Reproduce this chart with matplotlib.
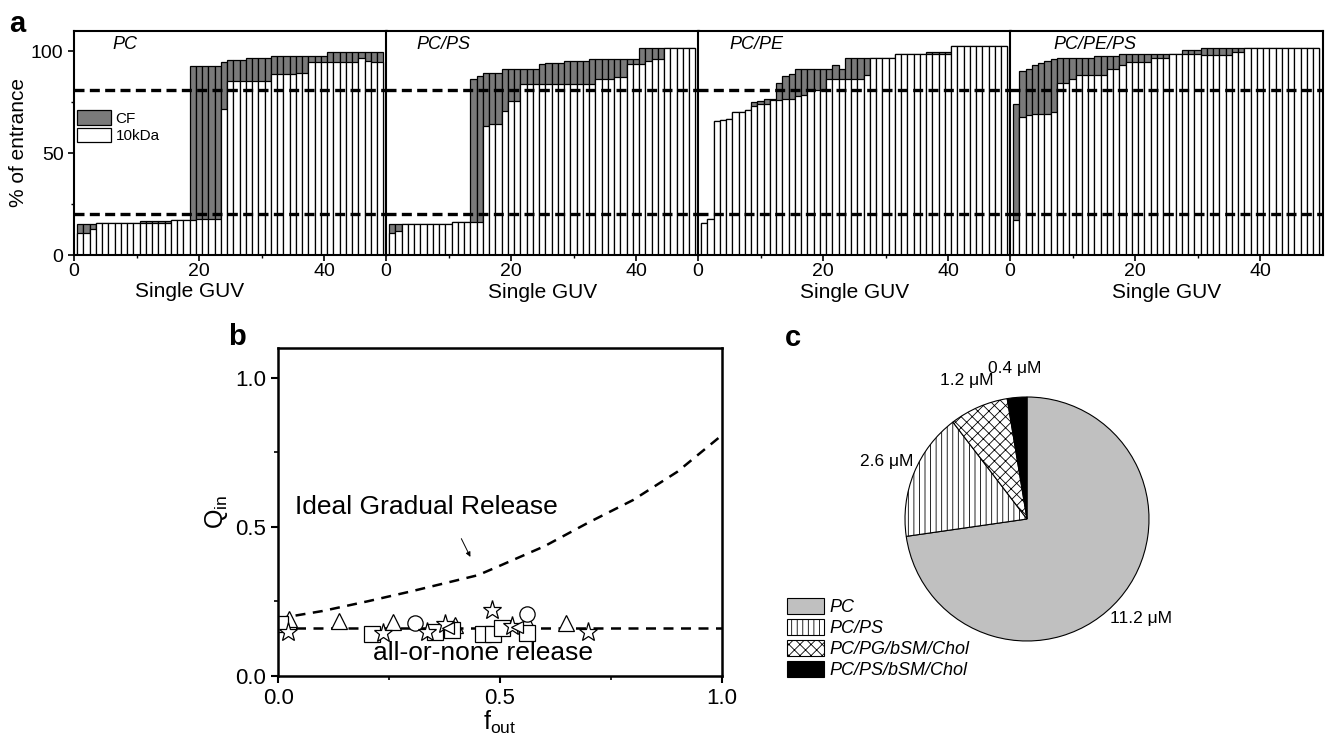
import matplotlib
matplotlib.use("Agg")
import matplotlib.pyplot as plt
from matplotlib.patches import Patch

plt.rcParams['font.family'] = ['Liberation Sans', 'DejaVu Sans']
plt.rcParams['mathtext.fontset'] = 'custom'
plt.rcParams['mathtext.rm'] = 'Liberation Sans'
plt.rcParams['hatch.linewidth'] = 0.6

# ---- panel a : % of entrance per single GUV ----
guv = list(range(1, 50))
panels = ["PC", "PC/PS", "PC/PE", "PC/PE/PS"]

cf_pc = [15.2, 15.2, 15.2, 15.8, 15.8, 15.8, 15.8, 15.8, 15.8, 15.8,
         16.8, 16.8, 16.8, 16.8, 16.8, 17.0, 17.0, 17.0, 92.7, 92.7,
         92.7, 92.7, 92.7, 94.6, 95.8, 95.8, 95.8, 96.7, 96.7, 96.7,
         96.7, 97.7, 97.7, 97.7, 97.7, 97.7, 97.7, 97.7, 97.7, 97.7,
         99.7, 99.7, 99.7, 99.7, 99.7, 99.7, 99.7, 99.7, 99.7]
kda_pc = [10.9, 10.9, 12.7, 15.8, 15.8, 15.8, 15.8, 15.8, 15.8, 15.8,
          15.8, 15.8, 15.8, 15.8, 15.8, 17.0, 17.0, 17.0, 17.0, 17.9,
          17.9, 17.9, 17.9, 71.5, 85.3, 85.3, 85.3, 85.3, 85.3, 85.3,
          85.3, 88.6, 88.6, 88.6, 88.6, 89.4, 89.4, 94.5, 94.5, 94.5,
          94.5, 94.5, 94.5, 94.5, 94.5, 96.6, 95.1, 94.5, 94.5]

cf_pcps = [15.2, 15.2, 15.0, 15.0, 15.0, 15.0, 15.0, 15.0, 15.0, 15.0,
           16.0, 16.0, 16.0, 86.1, 87.6, 89.2, 89.2, 89.2, 91.4, 91.4,
           91.4, 91.4, 91.4, 91.4, 93.5, 94.3, 94.3, 94.3, 95.1, 95.1,
           95.1, 95.1, 95.9, 95.9, 95.9, 95.9, 95.9, 95.9, 95.9, 95.9,
           101.6, 101.6, 101.6, 101.6, 101.6, 101.6, 101.6, 101.6, 101.6]
kda_pcps = [10.9, 11.9, 15.0, 15.0, 15.0, 15.0, 15.0, 15.0, 15.0, 15.0,
            16.0, 16.0, 16.0, 16.0, 16.0, 63.1, 64.4, 64.4, 70.6, 75.5,
            75.5, 84.0, 84.0, 84.0, 84.0, 84.0, 84.0, 84.0, 84.0, 84.0,
            84.0, 84.0, 84.0, 86.1, 86.1, 86.1, 87.3, 87.3, 93.5, 93.5,
            93.5, 95.1, 96.2, 96.2, 101.6, 101.6, 101.6, 101.6, 101.6]

cf_pcpe = [15.5, 17.5, 65.5, 66.1, 66.9, 70.1, 70.1, 71.3, 75.1, 75.6,
           76.7, 76.7, 84.3, 87.6, 88.9, 91.4, 91.4, 91.4, 91.4, 91.4,
           91.4, 93.0, 91.4, 96.7, 96.7, 96.7, 96.7, 96.7, 96.7, 96.7,
           96.7, 98.7, 98.7, 98.7, 98.7, 98.7, 99.5, 99.5, 99.5, 99.5,
           102.3, 102.3, 102.3, 102.3, 102.3, 102.3, 102.3, 102.3, 102.3]
kda_pcpe = [15.5, 17.5, 65.5, 66.1, 66.9, 70.1, 70.1, 71.3, 73.1, 74.2,
            74.2, 75.9, 76.2, 76.7, 76.7, 77.8, 78.3, 80.7, 80.7, 80.7,
            86.4, 86.4, 86.4, 86.4, 86.4, 86.4, 88.1, 96.7, 96.7, 96.7,
            96.7, 98.7, 98.7, 98.7, 98.7, 98.7, 98.7, 98.7, 98.7, 98.7,
            102.3, 102.3, 102.3, 102.3, 102.3, 102.3, 102.3, 102.3, 102.3]

cf_pcpeps = [73.9, 90.2, 91.4, 93.0, 94.1, 95.1, 95.9, 96.7, 96.7, 96.7,
             96.7, 96.7, 96.7, 97.6, 97.6, 97.6, 97.6, 98.7, 98.7, 98.7,
             98.7, 98.7, 98.7, 98.7, 98.7, 98.7, 98.7, 100.7, 100.7, 100.7,
             101.6, 101.6, 101.6, 101.6, 101.6, 101.6, 101.6, 101.6, 101.6, 101.6,
             101.6, 101.6, 101.6, 101.6, 101.6, 101.6, 101.6, 101.6, 101.6]
kda_pcpeps = [17.1, 67.7, 68.5, 69.3, 69.3, 69.3, 70.1, 84.3, 84.3, 86.5,
              88.1, 88.1, 88.1, 88.1, 88.1, 91.0, 91.0, 93.0, 94.6, 94.6,
              94.6, 94.6, 96.7, 96.7, 96.7, 98.7, 98.7, 98.7, 98.7, 98.7,
              97.9, 97.9, 97.9, 97.9, 97.9, 99.5, 99.5, 101.6, 101.6, 101.6,
              101.6, 101.6, 101.6, 101.6, 101.6, 101.6, 101.6, 101.6, 101.6]

cf_all = [cf_pc, cf_pcps, cf_pcpe, cf_pcpeps]
kda_all = [kda_pc, kda_pcps, kda_pcpe, kda_pcpeps]
threshold_hi = 81
threshold_lo = 20

# ---- panel b : Q_in vs f_out ----
ideal_f = [0.0, 0.1, 0.2, 0.3, 0.4, 0.45, 0.5, 0.6, 0.7, 0.8, 0.9, 1.0]
ideal_q = [0.193, 0.218, 0.25, 0.284, 0.32, 0.338, 0.37, 0.435, 0.515, 0.59, 0.685, 0.807]
allnone_q = 0.16

tri_f = [0.025, 0.137, 0.259, 0.398, 0.56, 0.649]
tri_q = [0.19, 0.185, 0.182, 0.171, 0.182, 0.178]
circ_f = [0.308, 0.56]
circ_q = [0.178, 0.208]
sq_f = [0.003, 0.211, 0.353, 0.391, 0.462, 0.485, 0.504, 0.56]
sq_q = [0.175, 0.14, 0.147, 0.154, 0.14, 0.14, 0.16, 0.143]
star_f = [0.023, 0.237, 0.335, 0.376, 0.481, 0.526, 0.699]
star_q = [0.148, 0.145, 0.148, 0.174, 0.223, 0.167, 0.148]
left_f = [0.383, 0.539]
left_q = [0.16, 0.163]

# ---- panel c : pie ----
lipids = ["PC", "PC/PS", "PC/PG/bSM/Chol", "PC/PS/bSM/Chol"]
conc = [11.2, 2.6, 1.2, 0.4]
conc_labels = ["11.2 \u03bcM", "2.6 \u03bcM", "1.2 \u03bcM", "0.4 \u03bcM"]
pie_colors = ["#c0c0c0", "white", "white", "black"]
pie_hatch = [None, "|||", "xxx", None]

W, H = 1325, 744
fig = plt.figure(figsize=(W / 100, H / 100), dpi=100)


def px_axes(x0, y0, x1, y1):
    return fig.add_axes([x0 / W, 1 - y1 / H, (x1 - x0) / W, (y1 - y0) / H])


bar_gray = "#7a7a7a"
lefts = [74, 386, 698, 1010]
name_x = [6.2, 4.9, 5.1, 6.9]
for i, name in enumerate(panels):
    ax = px_axes(lefts[i], 30.7, lefts[i] + 312.5, 255)
    ax.bar(guv, cf_all[i], width=1.0, color=bar_gray, edgecolor="black", linewidth=0.9)
    ax.bar(guv, kda_all[i], width=1.0, color="white", edgecolor="black", linewidth=0.9)
    ax.axhline(threshold_hi, color="black", lw=2.4, ls=(0, (3, 1.6)))
    ax.axhline(threshold_lo, color="black", lw=2.4, ls=(0, (3, 1.6)))
    ax.set_xlim(0, 50)
    ax.set_ylim(0, 110)
    ax.set_xticks([0, 20, 40])
    ax.set_xticks([10, 30], minor=True)
    ax.tick_params(axis="x", labelsize=14, direction="out", length=4, width=1.2, pad=2)
    ax.tick_params(axis="x", which="minor", length=2.5, width=1.0)
    ax.text(name_x[i], 103, name, style="italic", fontsize=13, va="center", ha="left")
    ax.set_xlabel("Single GUV", fontsize=15, labelpad=2)
    for sp in ax.spines.values():
        sp.set_linewidth(1.5)
    if i == 0:
        ax.set_yticks([0, 50, 100])
        ax.set_yticks([25, 75], minor=True)
        ax.tick_params(axis="y", labelsize=14, direction="out", length=4, width=1.2)
        ax.tick_params(axis="y", which="minor", length=2.5, width=1.0)
        ax.set_ylabel("% of entrance", fontsize=15, labelpad=2)
        ax.xaxis.set_label_coords(0.37, -0.12)
        handles = [Patch(facecolor=bar_gray, edgecolor="black", lw=0.9),
                   Patch(facecolor="white", edgecolor="black", lw=0.9)]
        ax.legend(handles, ["CF", "10kDa"], loc="upper left",
                  bbox_to_anchor=(0.008, 0.645), frameon=False, fontsize=11,
                  handlelength=2.25, handleheight=1.1, labelspacing=0.12,
                  handletextpad=0.3, borderpad=0, borderaxespad=0)
    else:
        ax.set_yticks([])

# panel b
bx = px_axes(278.3, 348, 721.7, 676)
bx.plot(ideal_f, ideal_q, color="black", lw=1.8, ls=(0, (4, 3)))
bx.axhline(allnone_q, color="black", lw=1.8, ls=(0, (4, 3)))
mk = dict(ls="none", mfc="white", mec="black", mew=0.9, ms=11)
bx.plot(tri_f, tri_q, marker="^", **mk)
bx.plot(circ_f, circ_q, marker="o", **mk)
bx.plot(sq_f, sq_q, marker="s", **mk)
bx.plot(star_f, star_q, marker="*", **dict(mk, ms=14))
bx.plot(left_f, left_q, marker="<", **dict(mk, ms=8))
bx.set_xlim(0, 1.0)
bx.set_ylim(0, 1.1)
bx.set_xticks([0, 0.5, 1.0], ["0.0", "0.5", "1.0"])
bx.set_xticks([0.25, 0.75], minor=True)
bx.set_yticks([0, 0.5, 1.0], ["0.0", "0.5", "1.0"])
bx.set_yticks([0.25, 0.75], minor=True)
bx.tick_params(labelsize=16, direction="out", length=5, width=1.5)
bx.tick_params(which="minor", length=3, width=1.2)
for sp in bx.spines.values():
    sp.set_linewidth(1.8)
bx.set_xlabel("f$_{\\mathrm{out}}$", fontsize=18, labelpad=0)
bx.set_ylabel("Q$_{\\mathrm{in}}$", fontsize=18, labelpad=4)
bx.text(0.038, 0.567, "Ideal Gradual Release", fontsize=19, va="center", ha="left")
bx.text(0.214, 0.076, "all-or-none release", fontsize=19, va="center", ha="left")
bx.annotate("", xy=(0.436, 0.391), xytext=(0.41, 0.469),
            arrowprops=dict(arrowstyle="-|>", lw=0.7, color="black", mutation_scale=7))

# panel c
cx = px_axes(1027 - 152.5, 519 - 152.5, 1027 + 152.5, 519 + 152.5)
wedges, texts = cx.pie(conc, labels=conc_labels, colors=pie_colors, startangle=90,
                       counterclock=False, labeldistance=1.24,
                       wedgeprops=dict(edgecolor="black", linewidth=0.8),
                       textprops=dict(fontsize=12.5))
for w, h in zip(wedges, pie_hatch):
    if h:
        w.set_hatch(h)
for t in texts:
    t.set_ha("center")
    t.set_va("center")
cx.set_xlim(-1.25, 1.25)
cx.set_ylim(-1.25, 1.25)
fig.legend(wedges, lipids, loc="upper left", bbox_to_anchor=(787 / W, 1 - 598 / H),
           frameon=False, prop=dict(style="italic", size=13),
           handlelength=2.05, handleheight=1.0, labelspacing=0.15,
           handletextpad=0.3, borderpad=0, borderaxespad=0)

fig.text(17.5 / W, 1 - 24.5 / H, "a", fontsize=21, weight="bold", ha="center", va="center")
fig.text(237 / W, 1 - 337 / H, "b", fontsize=21, weight="bold", ha="center", va="center")
fig.text(793 / W, 1 - 338 / H, "c", fontsize=21, weight="bold", ha="center", va="center")

fig.savefig("out.png", dpi=100)
